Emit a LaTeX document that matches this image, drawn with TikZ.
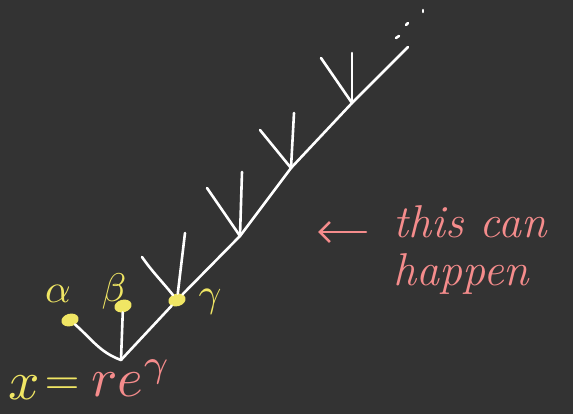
\documentclass[tikz,border=0pt]{standalone}
\usepackage{amsmath}
\usepackage{graphicx}
\usepackage{tikz}
\usetikzlibrary{shapes,arrows.meta,positioning}
\definecolor{boardgray}{RGB}{51, 51, 51}
\definecolor{chalkyellow}{RGB}{240, 230, 100}
\definecolor{chalkpink}{RGB}{245, 140, 140}

\begin{document}
\begin{tikzpicture}[
    x=1pt, y=-1pt,
    every node/.style={align=center},
    leaf/.style={ellipse, minimum width=16pt, minimum height=11pt, inner sep=0pt, draw=chalkyellow, fill=chalkyellow, line width=1.5pt},
    greek/.style={text=chalkyellow},
    branch/.style={draw=white, line width=2.6pt, line cap=round},
    note/.style={text=chalkpink, anchor=west, font=\fontsize{46}{52}\selectfont\itshape},
    arrow/.style={draw=chalkpink, line width=2.6pt, line cap=round, -{Straight Barb[length=10pt, width=20pt, line width=2.6pt]}}
]
\fill[boardgray] (0,0) rectangle (573,414);
\useasboundingbox (0,0) rectangle (573,414);

% Lower tree
\coordinate (root) at (121,360);
\node[leaf, rotate=15] (alpha) at (70,320) {};
\node[leaf, rotate=15] (beta) at (123,306) {};
\node[leaf, rotate=15] (gamma) at (177,300) {};
\node[greek] (alphalabel) at (58,294) {\scalebox{4}{$\alpha$}};
\node[greek] (betalabel) at (114,291) {\scalebox{4}{$\beta$}};
\node[greek] (gammalabel) at (210,302) {\scalebox{4}{$\gamma$}};

\draw[branch] (alpha) to[out=-45, in=160] (root);
\draw[branch] (beta) -- (root);
\draw[branch] (gamma) -- (root);

% Chain going up
\coordinate (c1) at (240,236);
\coordinate (c2) at (291,168);
\coordinate (c3) at (352,103);
\coordinate (c4) at (408,47);
\coordinate (l0) at (142,257);
\coordinate (m0) at (185,233);
\coordinate (l1) at (207,188);
\coordinate (m1) at (242,172);
\coordinate (l2) at (260,130);
\coordinate (m2) at (294,113);
\coordinate (l3) at (321,58);
\coordinate (m3) at (352,53);

\draw[branch] (gamma) -- (c1) -- (c2) -- (c3) -- (c4);
\draw[branch] (l0) to[out=-55, in=125] (gamma);
\draw[branch] (m0) -- (gamma);
\draw[branch] (l1) -- (c1);
\draw[branch] (m1) -- (c1);
\draw[branch] (l2) -- (c2);
\draw[branch] (m2) -- (c2);
\draw[branch] (l3) -- (c3);
\draw[branch] (m3) -- (c3);

% dots
\coordinate (d1) at (396,38);
\coordinate (d2) at (406,25);
\coordinate (d3) at (423,12);
\draw[branch] (d1) -- ++(3,-2);
\draw[branch] (d2) -- ++(2,-2);
\draw[branch] (d3) -- ++(0,-2);

% Annotation
\node[note] (remarkone) at (390,222) {this can};
\node[note] (remarktwo) at (390,274) {happen};
\coordinate (arrowtip) at (318,232);
\draw[arrow, shorten <=24pt] (remarkone.west |- arrowtip) -- (arrowtip);

% Formula
\node[text=chalkyellow] (xlabel) at (24,388) {\scalebox{5.5}{$x$}};
\node[text=chalkyellow] (eqsign) at (62,386) {\scalebox{4.5}{$=$}};
\node[text=chalkpink, anchor=west] (rexp) at (88,378) {\scalebox{5.5}{$r e^{\gamma}$}};

\end{tikzpicture}
\end{document}
